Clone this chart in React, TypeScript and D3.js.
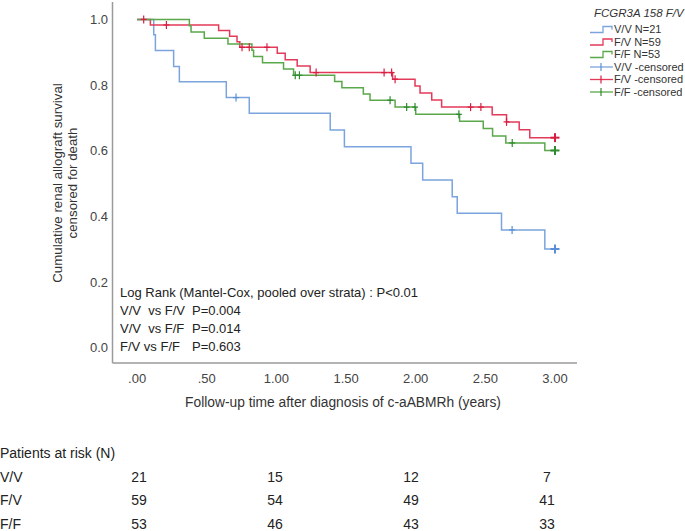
import React from "react";
import * as d3 from "d3";

// ---- Data ----
const groups = ["V/V", "F/V", "F/F"];
const groupN = [21, 59, 53];

const vvStepTimes = [0.119, 0.131, 0.262, 0.303, 0.64, 0.805, 1.386, 1.488, 1.966, 2.05, 2.262, 2.298, 2.616, 2.927];
const vvStepSurv = [0.953, 0.905, 0.857, 0.81, 0.762, 0.714, 0.663, 0.612, 0.562, 0.511, 0.46, 0.41, 0.359, 0.301];
const vvCensor = [0.71, 2.692, 3.0];

const fvStepTimes = [0.095, 0.585, 0.664, 0.717, 0.737, 1.006, 1.063, 1.149, 1.242, 1.834, 1.995, 2.031, 2.115, 2.186, 2.549, 2.652, 2.743, 2.819];
const fvStepSurv = [0.983, 0.966, 0.949, 0.932, 0.915, 0.897, 0.877, 0.858, 0.838, 0.818, 0.797, 0.776, 0.755, 0.733, 0.71, 0.688, 0.664, 0.64];
const fvCensor = [0.047, 0.21, 0.753, 0.805, 0.932, 1.285, 1.773, 1.827, 1.852, 2.394, 2.468, 2.652, 3.0];

const ffStepTimes = [0.375, 0.387, 0.482, 0.652, 0.824, 0.836, 0.9, 1.051, 1.123, 1.418, 1.47, 1.624, 1.672, 1.852, 2.0, 2.315, 2.485, 2.552, 2.647, 2.927];
const ffStepSurv = [0.981, 0.962, 0.943, 0.925, 0.906, 0.887, 0.868, 0.849, 0.83, 0.811, 0.792, 0.773, 0.754, 0.733, 0.711, 0.69, 0.668, 0.645, 0.624, 0.601];
const ffCensor = [1.135, 1.165, 1.816, 1.935, 1.995, 2.31, 2.693, 3.0];

const followEnd = 3.0;

const xTicks = [0, 0.5, 1, 1.5, 2, 2.5, 3];
const xTickLabels = [".00", ".50", "1.00", "1.50", "2.00", "2.50", "3.00"];
const yTicks = [0, 0.2, 0.4, 0.6, 0.8, 1.0];

const riskTimes = [0, 1, 2, 3];
const riskVV = [21, 15, 12, 7];
const riskFV = [59, 54, 49, 41];
const riskFF = [53, 46, 43, 33];

const logRankText = "Log Rank (Mantel-Cox, pooled over strata) : P<0.01";
const pairLabels = ["V/V  vs F/V", "V/V  vs F/F", "F/V vs F/F"];
const pairP = ["P=0.004", "P=0.014", "P=0.603"];

const lineColors = ["#7ba4dc", "#e33a5a", "#5aa84a"];
const censorColors = ["#5b8ed6", "#d81e40", "#2e8b2e"];

const FONT = "'Liberation Sans', Arial, sans-serif";

export default function App() {
  const W = 685, H = 531;
  const x = d3.scaleLinear().domain([-0.177, 3.158]).range([112.5, 577]);
  const y = d3.scaleLinear().domain([-0.046, 1.053]).range([363, 2]);
  const xRisk = d3.scaleLinear().domain([0, 3]).range([139, 547]);

  const series = [
    { times: vvStepTimes, surv: vvStepSurv, cens: vvCensor },
    { times: fvStepTimes, surv: fvStepSurv, cens: fvCensor },
    { times: ffStepTimes, surv: ffStepSurv, cens: ffCensor },
  ];

  const line = d3
    .line<[number, number]>()
    .x((d) => x(d[0]))
    .y((d) => y(d[1]))
    .curve(d3.curveStepAfter);

  const survAt = (s: { times: number[]; surv: number[] }, t: number) => {
    let v = 1;
    s.times.forEach((tt, i) => {
      if (tt <= t) v = s.surv[i];
    });
    return v;
  };

  const paths = series.map((s) => {
    const pts: [number, number][] = [[0, 1]];
    s.times.forEach((t, i) => pts.push([t, s.surv[i]]));
    pts.push([followEnd, s.surv[s.surv.length - 1]]);
    return line(pts) || "";
  });

  const legendY = [29.5, 42, 54.5, 67, 79.5, 92];
  const riskRows = [riskVV, riskFV, riskFF];

  return (
    <svg width={W} height={H} style={{ position: "absolute", left: 0, top: 0, background: "#fff" }} fontFamily={FONT}>
      {/* axes */}
      <line x1={x(-0.177)} x2={x(-0.177)} y1={y(1.053)} y2={y(-0.046)} stroke="#9a9a9a" strokeWidth={1.5} />
      <line x1={x(-0.177)} x2={x(3.158)} y1={y(-0.046)} y2={y(-0.046)} stroke="#9a9a9a" strokeWidth={1.5} />
      {yTicks.map((v) => (
        <text key={v} x={108} y={y(v)} dy="0.35em" textAnchor="end" fontSize={13} fill="#444">
          {v.toFixed(1)}
        </text>
      ))}
      {xTicks.map((v, i) => (
        <text key={v} x={x(v)} y={383} textAnchor="middle" fontSize={13} fill="#444">
          {xTickLabels[i]}
        </text>
      ))}
      <text x={343} y={407} textAnchor="middle" fontSize={13.8} fill="#333">
        Follow-up time after diagnosis of c-aABMRh (years)
      </text>
      <g transform="translate(57,183) rotate(-90)">
        <text x={0} y={0} dy="0.35em" textAnchor="middle" fontSize={13.3} fill="#333">
          Cumulative renal allograft survival
        </text>
        <text x={0} y={15} dy="0.35em" textAnchor="middle" fontSize={13.3} fill="#333">
          censored for death
        </text>
      </g>

      {/* curves */}
      {paths.map((p, i) => (
        <path key={i} d={p} fill="none" stroke={lineColors[i]} strokeWidth={1.5} />
      ))}
      {series.map((s, i) =>
        s.cens.map((t, j) => {
          const cx = x(t);
          const cy = y(survAt(s, t));
          const end = t >= followEnd;
          const h = end ? 4.5 : 4;
          const w = end ? 4.5 : 3;
          return (
            <g key={`${i}-${j}`} stroke={censorColors[i]} strokeWidth={end ? 2 : 1.2}>
              <line x1={cx} x2={cx} y1={cy - h} y2={cy + h} />
              <line x1={cx - w} x2={cx + w} y1={cy} y2={cy} />
            </g>
          );
        })
      )}

      {/* annotation */}
      <text x={120} y={296.5} fontSize={13} fill="#222">{logRankText}</text>
      {pairLabels.map((lab, i) => (
        <g key={lab}>
          <text x={120} y={314.5 + i * 18} fontSize={13} fill="#222" style={{ whiteSpace: "pre" }}>
            {lab}
          </text>
          <text x={192} y={314.5 + i * 18} fontSize={13} fill="#222">
            {pairP[i]}
          </text>
        </g>
      ))}

      {/* legend */}
      <text x={594} y={17} fontSize={11.5} fontStyle="italic" fill="#333">FCGR3A 158 F/V</text>
      {groups.map((g, i) => {
        const ly = legendY[i];
        return (
          <g key={g}>
            <path d={`M590,${ly + 3}H603V${ly - 3}H612V${ly}`} fill="none" stroke={lineColors[i]} strokeWidth={1.3} />
            <text x={614} y={ly} dy="0.35em" fontSize={11} fill="#333">{`${g} N=${groupN[i]}`}</text>
          </g>
        );
      })}
      {groups.map((g, i) => {
        const ly = legendY[i + 3];
        return (
          <g key={g + "c"}>
            <line x1={590} x2={613} y1={ly} y2={ly} stroke={lineColors[i]} strokeWidth={1.3} />
            <line x1={601} x2={601} y1={ly - 4} y2={ly + 4} stroke={censorColors[i]} strokeWidth={1.2} />
            <text x={614} y={ly} dy="0.35em" fontSize={11} fill="#333">{`${g} -censored`}</text>
          </g>
        );
      })}

      {/* risk table */}
      <text x={0} y={458} fontSize={14} fill="#222">Patients at risk (N)</text>
      {groups.map((g, i) => (
        <g key={g + "r"}>
          <text x={0} y={482 + i * 23.3} fontSize={14} fill="#222">{g}</text>
          {riskRows[i].map((v, j) => (
            <text key={j} x={xRisk(riskTimes[j])} y={482 + i * 23.3} textAnchor="middle" fontSize={14} fill="#222">
              {v}
            </text>
          ))}
        </g>
      ))}
    </svg>
  );
}
